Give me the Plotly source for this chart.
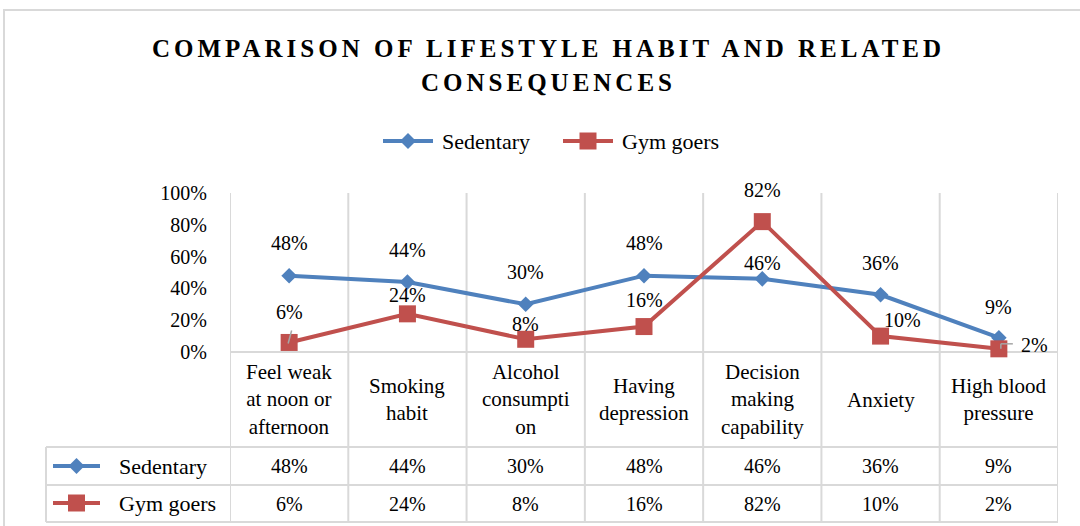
import plotly.graph_objects as go

# ---------------- data ----------------
categories = ["Feel weak<br>at noon or<br>afternoon", "Smoking<br>habit", "Alcohol<br>consumpti<br>on",
              "Having<br>depression", "Decision<br>making<br>capability", "Anxiety", "High blood<br>pressure"]
series_names = ["Sedentary", "Gym goers"]
sedentary = [0.48, 0.44, 0.30, 0.48, 0.46, 0.36, 0.09]
gym_goers = [0.06, 0.24, 0.08, 0.16, 0.82, 0.10, 0.02]
y_ticks = [0, 0.2, 0.4, 0.6, 0.8, 1.0]
y_tick_text = ["0%", "20%", "40%", "60%", "80%", "100%"]
title_lines = ["COMPARISON OF LIFESTYLE HABIT AND RELATED", "CONSEQUENCES"]

# ---------------- styles ----------------
W, H = 1080, 526
FONT = "Palatino Linotype, Book Antiqua, Liberation Serif, serif"
BLUE = "#4F81BD"
RED = "#C0504D"
GRID = "#D9D9D9"
PX_L, PX_R, PX_T, PX_B = 230, 1058, 193, 352   # plot area in pixels
ROW1_B, ROW2_B, ROW3_B = 447, 485, 522          # table row bottoms
TBL_L = 46
sed_shift = [(0, 33), (0, 32), (0, 32), (0, 33), (0, 16), (0, 32), (0, 31)]
gym_shift = [(0, 30), (0, 19), (0, 15), (0, 27), (0, 32), (22, 16), (36, 4)]

def fx(p):
    return p / W

def fy(p):
    return 1 - p / H

n = len(categories)
xs = list(range(n))
fig = go.Figure()

fig.add_trace(go.Scatter(x=xs, y=sedentary, name=series_names[0], mode="lines+markers",
                         line=dict(color=BLUE, width=4),
                         marker=dict(symbol="diamond", size=12, color=BLUE),
                         cliponaxis=False, hoverinfo="skip"))
fig.add_trace(go.Scatter(x=xs, y=gym_goers, name=series_names[1], mode="lines+markers",
                         line=dict(color=RED, width=4),
                         marker=dict(symbol="square", size=17, color=RED),
                         cliponaxis=False, hoverinfo="skip"))

shapes = []
ann = []

def pline(x0, y0, x1, y1, color=GRID, width=2, layer="below"):
    shapes.append(dict(type="line", xref="paper", yref="paper", x0=fx(x0), y0=fy(y0),
                       x1=fx(x1), y1=fy(y1), line=dict(color=color, width=width), layer=layer))

def ptext(x, y, text, size=20, xanchor="center"):
    ann.append(dict(xref="paper", yref="paper", x=fx(x), y=fy(y), text=text, showarrow=False,
                    xanchor=xanchor, yanchor="middle",
                    font=dict(family=FONT, size=size, color="#000000")))

# chart border
shapes.append(dict(type="rect", xref="paper", yref="paper", x0=fx(4), y0=fy(10), x1=fx(1100),
                   y1=fy(560), line=dict(color=GRID, width=2), layer="below"))

# vertical gridlines at category boundaries (through table)
for i in range(n + 1):
    shapes.append(dict(type="line", xref="x", yref="paper", x0=i - 0.5, x1=i - 0.5,
                       y0=fy(PX_T), y1=fy(ROW3_B), line=dict(color=GRID, width=2), layer="below"))
# axis line / table horizontal lines
pline(PX_L, PX_B, PX_R, PX_B)
pline(TBL_L, ROW1_B, PX_R, ROW1_B)
pline(TBL_L, ROW2_B, PX_R, ROW2_B)
pline(TBL_L, ROW3_B, PX_R, ROW3_B)
pline(TBL_L, ROW1_B, TBL_L, ROW3_B)

# title
for k, line in enumerate(title_lines):
    ptext(548, 48 + 35 * k, '<b><span style="letter-spacing:4px">%s</span></b>' % line, size=25)

# legend (top) and table legend keys
key_specs = [
    (383, 433, 141, BLUE, "diamond", series_names[0], 440),
    (563, 613, 141, RED, "square", series_names[1], 620),
    (53, 100, 466, BLUE, "diamond", series_names[0], 117),
    (53, 100, 503, RED, "square", series_names[1], 117),
]
for x0, x1, yy, col, sym, label, tx in key_specs:
    pline(x0, yy, x1, yy, color=col, width=4, layer="above")
    cx = (x0 + x1) / 2
    if sym == "square":
        r = 8.5
        shapes.append(dict(type="rect", xref="paper", yref="paper", x0=fx(cx - r), x1=fx(cx + r),
                           y0=fy(yy - r), y1=fy(yy + r), fillcolor=col, line=dict(width=0),
                           layer="above"))
    else:
        r = 8
        path = "M %f,%f L %f,%f L %f,%f L %f,%f Z" % (fx(cx), fy(yy - r), fx(cx + r), fy(yy),
                                                       fx(cx), fy(yy + r), fx(cx - r), fy(yy))
        shapes.append(dict(type="path", xref="paper", yref="paper", path=path, fillcolor=col,
                           line=dict(width=0), layer="above"))
    ptext(tx, yy, label, size=22, xanchor="left")

# category labels & table values
for i, cat in enumerate(categories):
    for yc, txt, sz in (((PX_B + ROW1_B) / 2, cat, 21),
                        ((ROW1_B + ROW2_B) / 2, f"{sedentary[i]:.0%}", 20),
                        ((ROW2_B + ROW3_B) / 2, f"{gym_goers[i]:.0%}", 20)):
        ann.append(dict(xref="x", yref="paper", x=i, y=fy(yc), text=txt, showarrow=False,
                        yanchor="middle", font=dict(family=FONT, size=sz, color="#000")))

# data labels
for vals, shifts in ((sedentary, sed_shift), (gym_goers, gym_shift)):
    for i, v in enumerate(vals):
        dx, dy = shifts[i]
        ann.append(dict(xref="x", yref="y", x=i, y=v, text=f"{v:.0%}", showarrow=False,
                        xshift=dx, yshift=dy, yanchor="middle",
                        font=dict(family=FONT, size=20, color="#000")))

# small leader lines
def lx(i):
    return PX_L + (i + 0.5) * (PX_R - PX_L) / n

def ly(v):
    return PX_B - v * (PX_B - PX_T)

pline(lx(0) + 2.5, ly(gym_goers[0]) - 12, lx(0) - 1, ly(gym_goers[0]) + 1, color="#A6A6A6", width=1.5, layer="above")
pline(lx(6) + 2, ly(gym_goers[6]) - 5, lx(6) + 14, ly(gym_goers[6]) - 5, color="#A6A6A6", width=1.5, layer="above")
pline(lx(6) + 2, ly(gym_goers[6]) - 5, lx(6) + 2, ly(gym_goers[6]), color="#A6A6A6", width=1.5, layer="above")

fig.update_layout(
    width=W, height=H, margin=dict(l=0, r=0, t=0, b=0, pad=0, autoexpand=False),
    paper_bgcolor="white", plot_bgcolor="rgba(0,0,0,0)",
    showlegend=False, shapes=shapes, annotations=ann,
    font=dict(family=FONT, size=20, color="#000"),
    xaxis=dict(domain=[fx(PX_L), fx(PX_R)], range=[-0.5, n - 0.5], visible=False,
               fixedrange=True, automargin=False),
    yaxis=dict(domain=[fy(PX_B), fy(PX_T)], range=[0, 1], tickvals=y_ticks,
               ticktext=y_tick_text, showgrid=False, zeroline=False, showline=False,
               ticks="", ticklabelstandoff=22, tickfont=dict(family=FONT, size=20, color="#000"),
               fixedrange=True, automargin=False),
)

fig.write_html("out.html", config={"displayModeBar": False},
               post_script="document.body.style.margin='0';document.body.style.overflow='hidden';")
